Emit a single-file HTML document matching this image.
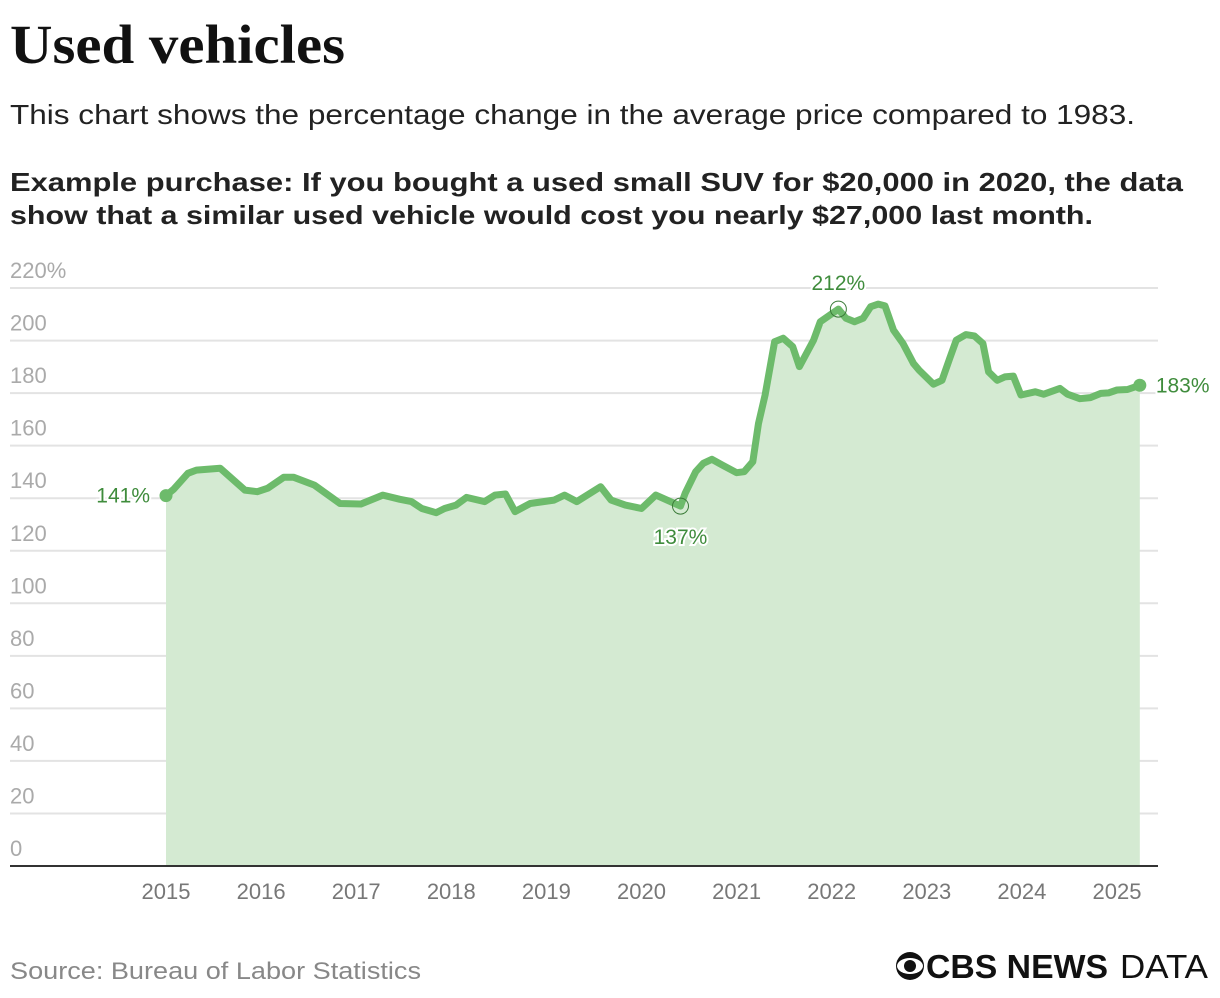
<!DOCTYPE html>
<html><head><meta charset="utf-8"><style>
body{margin:0;background:#fff;width:1220px;height:998px;overflow:hidden;font-family:"Liberation Sans",sans-serif;}
#c{position:absolute;left:0;top:0}
</style></head><body>
<svg id="c" width="1220" height="998">
<text x="10" y="63" font-family="Liberation Serif" font-weight="bold" font-size="55" fill="#111" textLength="335" lengthAdjust="spacingAndGlyphs">Used vehicles</text>
<text x="10" y="124" font-size="28" fill="#222" textLength="1125" lengthAdjust="spacingAndGlyphs">This chart shows the percentage change in the average price compared to 1983.</text>
<text x="10" y="191" font-size="26" font-weight="bold" fill="#222" textLength="1173" lengthAdjust="spacingAndGlyphs">Example purchase: If you bought a used small SUV for $20,000 in 2020, the data</text>
<text x="10" y="224" font-size="26" font-weight="bold" fill="#222" textLength="1083" lengthAdjust="spacingAndGlyphs">show that a similar used vehicle would cost you nearly $27,000 last month.</text>
<g id="grid"></g>
<g id="xaxis"></g>
<g id="plot"></g>
<text x="10" y="979" font-size="24" fill="#888" textLength="411" lengthAdjust="spacingAndGlyphs">Source: Bureau of Labor Statistics</text>
<g>
<circle cx="910" cy="966" r="14" fill="#111"/>
<ellipse cx="910" cy="966" rx="13" ry="8" fill="#fff"/>
<circle cx="910" cy="966" r="6" fill="#111"/>
<text x="926" y="978" font-size="33" font-weight="bold" fill="#111" textLength="182" lengthAdjust="spacingAndGlyphs">CBS NEWS</text>
<text x="1120" y="978" font-size="33" fill="#111" textLength="88" lengthAdjust="spacingAndGlyphs">DATA</text>
</g>
</svg>
<script>
const yTicks=[0,20,40,60,80,100,120,140,160,180,200,220];
const xTicks=[2015,2016,2017,2018,2019,2020,2021,2022,2023,2024,2025];
const dates=[2015.00,2015.08,2015.23,2015.32,2015.57,2015.83,2015.96,2016.07,2016.24,2016.34,2016.56,2016.83,2017.05,2017.28,2017.46,2017.58,2017.69,2017.84,2017.93,2018.05,2018.16,2018.35,2018.46,2018.57,2018.67,2018.83,2019.08,2019.19,2019.32,2019.57,2019.68,2019.83,2020.0,2020.15,2020.41,2020.46,2020.57,2020.65,2020.74,2020.85,2021.0,2021.08,2021.17,2021.23,2021.30,2021.40,2021.49,2021.59,2021.66,2021.81,2021.88,2022.07,2022.15,2022.24,2022.33,2022.41,2022.49,2022.56,2022.65,2022.75,2022.86,2022.92,2023.07,2023.16,2023.24,2023.31,2023.41,2023.50,2023.59,2023.65,2023.74,2023.82,2023.91,2023.99,2024.14,2024.23,2024.40,2024.48,2024.61,2024.72,2024.83,2024.91,2025.0,2025.11,2025.24];
const values=[141,143.4,149.5,150.7,151.4,143.1,142.5,143.8,148,148,145,138,137.8,141.2,139.6,138.7,136.1,134.5,136.1,137.4,140.3,138.7,141.2,141.6,134.9,138,139.3,141.2,138.7,144.4,139.3,137.4,136.1,141.2,137,141.9,150.1,153.3,154.8,152.6,149.7,150.1,153.9,168.5,179.3,199.6,200.9,197.7,190.1,200.2,207.2,212,208.5,207.2,208.5,212.9,213.9,213.2,204,198.9,191.3,188.7,183.4,184.9,193.1,200.2,202.3,201.8,198.9,188.1,184.9,186.2,186.5,179.3,180.5,179.6,181.8,179.6,177.9,178.3,179.9,180.1,181.2,181.4,183];
const NS="http://www.w3.org/2000/svg";
const X=d=>166+(d-2015)*95.1;
const Y=v=>866-v*2.627;
function mk(tag,attrs,parent){const e=document.createElementNS(NS,tag);for(const k in attrs)e.setAttribute(k,attrs[k]);parent.appendChild(e);return e;}
const grid=document.getElementById('grid'),xa=document.getElementById('xaxis'),plot=document.getElementById('plot');
yTicks.forEach((t,i)=>{
  if(t>0){const l=mk('line',{x1:10,x2:1158,y1:Y(t),y2:Y(t),stroke:'#e3e3e3','stroke-width':2},grid);
  
  }
  const tx=mk('text',{x:10,y:Y(t)-10,'font-size':22,fill:'#aaa'},grid);
  tx.textContent=t+(i===yTicks.length-1?'%':'');
  
  
});
xTicks.forEach(t=>{
  const tx=mk('text',{x:X(t),y:899,'font-size':22,fill:'#777','text-anchor':'middle'},xa);
  tx.textContent=t;
  
  
});
let pts=dates.map((d,i)=>X(d).toFixed(1)+','+Y(values[i]).toFixed(1));
const area=mk('path',{d:'M'+X(dates[0])+','+Y(0)+' L'+pts.join(' L')+' L'+X(dates[dates.length-1])+','+Y(0)+'Z',fill:'#d4ead2'},plot);


const base=mk('line',{x1:10,x2:1158,y1:866,y2:866,stroke:'#333','stroke-width':2},plot);


const line=mk('polyline',{points:pts.join(' '),fill:'none',stroke:'#6dbb6b','stroke-width':7,'stroke-linejoin':'round','stroke-linecap':'round'},plot);


[0,values.length-1].forEach(i=>{const c=mk('circle',{cx:X(dates[i]),cy:Y(values[i]),r:6.5,fill:'#6dbb6b'},plot);

});
[34,51].forEach(i=>{const c=mk('circle',{cx:X(dates[i]),cy:Y(values[i]),r:8,fill:'none',stroke:'#3a7a38','stroke-width':1},plot);

});
function lab(i,dx,dy,anchor,name){const t=mk('text',{x:X(dates[i])+dx,y:Y(values[i])+dy,'font-size':21,fill:'#3f8c3c','text-anchor':anchor,stroke:'#fff','stroke-width':4,'paint-order':'stroke'},plot);
t.textContent=Math.round(values[i])+'%';

}
lab(0,-16,7,'end','start-label');
lab(34,0,38,'middle','low-label');
lab(51,0,-19,'middle','peak-label');
lab(values.length-1,16,7,'start','end-label');
</script>
</body></html>
